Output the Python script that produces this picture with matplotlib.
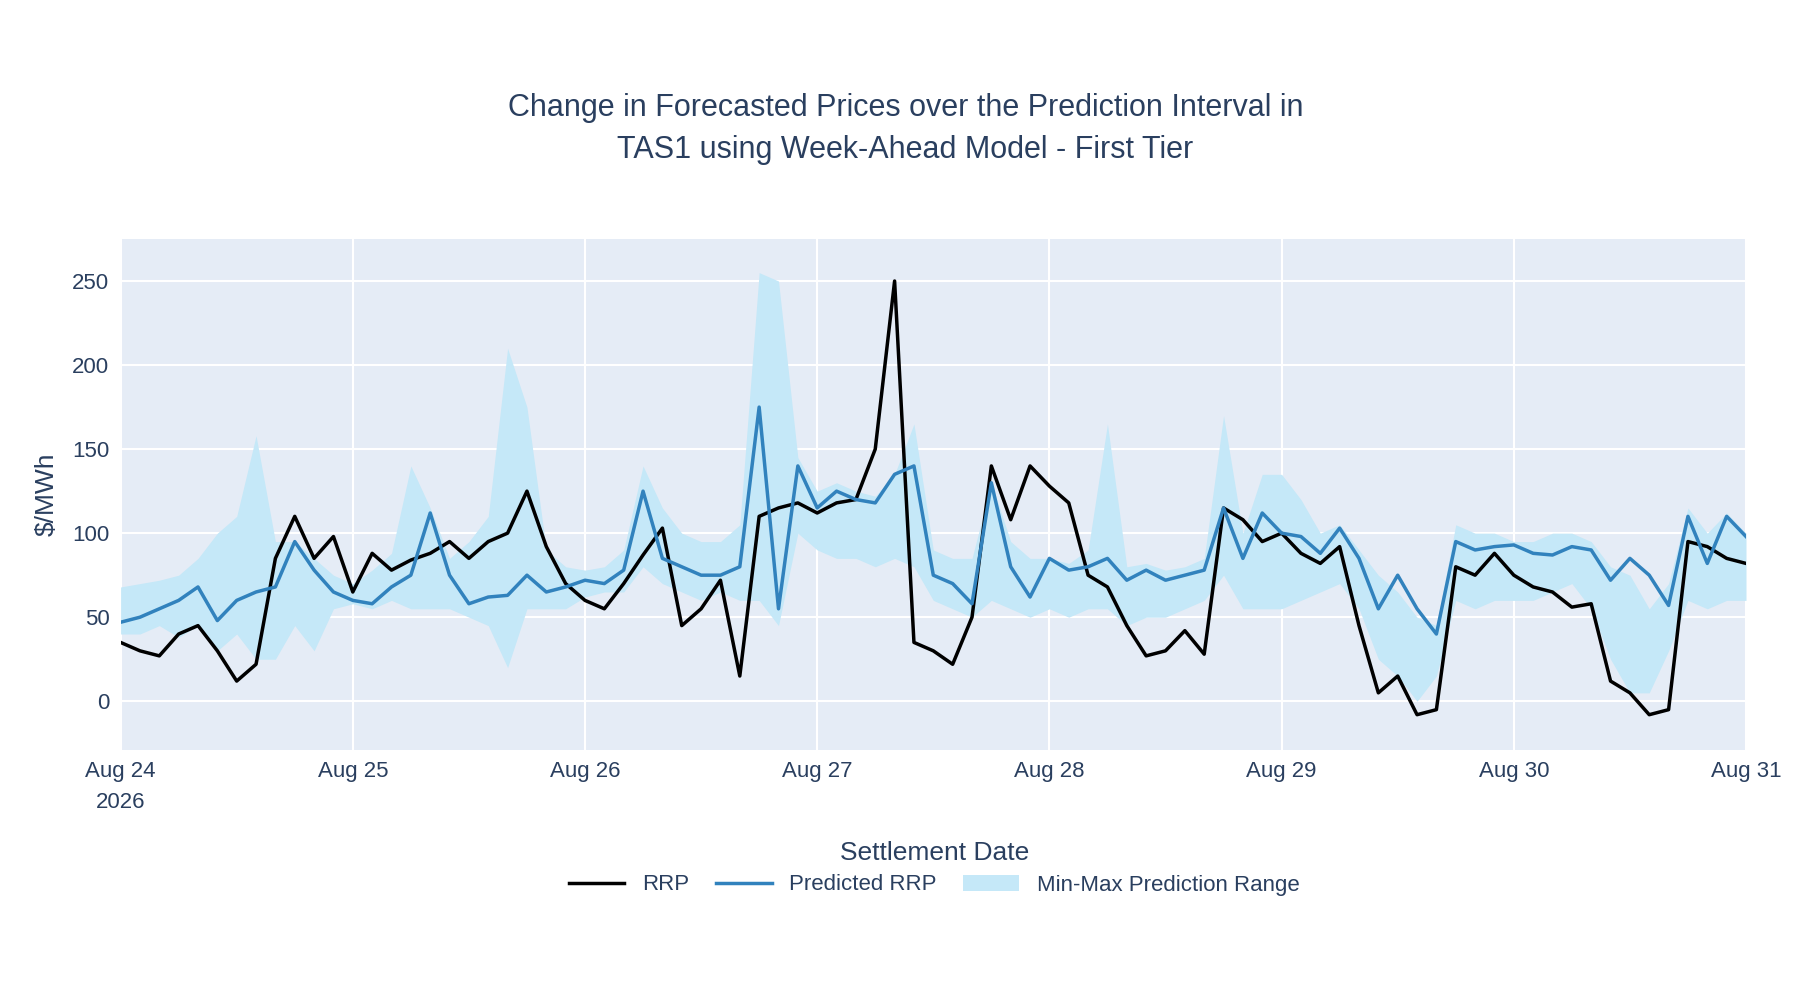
import numpy as np
import pandas as pd
import matplotlib
matplotlib.use("Agg")
import matplotlib.pyplot as plt
import matplotlib.dates as mdates

plt.rcParams['font.family'] = ['Liberation Sans', 'DejaVu Sans']

times = pd.date_range("2026-08-24 00:00", "2026-08-31 00:00", freq="2h")

rrp = [35,30,27,40,45,30,12,22,85,110,85,98,
       65,88,78,84,88,95,85,95,100,125,92,70,
       60,55,70,87,103,45,55,72,15,110,115,118,
       112,118,120,150,250,35,30,22,50,140,108,140,
       128,118,75,68,45,27,30,42,28,115,108,95,
       100,88,82,92,45,5,15,-8,-5,80,75,88,
       75,68,65,56,58,12,5,-8,-5,95,92,85,82]
pred = [47,50,55,60,68,48,60,65,68,95,78,65,
        60,58,68,75,112,75,58,62,63,75,65,68,
        72,70,78,125,85,80,75,75,80,175,55,140,
        115,125,120,118,135,140,75,70,58,130,80,62,
        85,78,80,85,72,78,72,75,78,115,85,112,
        100,98,88,103,85,55,75,55,40,95,90,92,
        93,88,87,92,90,72,85,75,57,110,82,110,98]
pmax = [68,70,72,75,85,100,110,158,95,95,85,75,
        70,78,88,140,115,85,95,110,210,175,90,80,
        78,80,90,140,115,100,95,95,105,255,250,145,
        125,130,125,122,135,165,90,85,85,130,95,85,
        85,82,90,165,80,82,78,80,85,170,100,135,
        135,120,100,105,90,75,65,50,45,105,100,100,
        95,95,100,100,95,80,75,55,70,115,100,112,100]
pmin = [40,40,45,38,45,30,40,25,25,45,30,55,
        58,55,60,55,55,55,50,45,20,55,55,55,
        62,65,65,80,70,65,60,65,60,60,45,100,
        90,85,85,80,85,80,60,55,50,60,55,50,
        55,50,55,55,45,50,50,55,60,75,55,55,
        55,60,65,70,55,25,15,0,15,60,55,60,
        60,60,65,70,55,25,5,5,30,60,55,60,60]

fig = plt.figure(figsize=(18, 10), dpi=100)
ax = fig.add_axes([0.067, 0.25, 0.903, 0.511])
ax.set_facecolor("#E5ECF6")
ax.fill_between(times, pmin, pmax, color="#C5E8F8", lw=0, label="Min-Max Prediction Range")
ax.plot(times, rrp, color="black", lw=2.5, label="RRP")
ax.plot(times, pred, color="#3182BD", lw=2.5, label="Predicted RRP")
ax.set_xlim(times[0], times[-1])
ax.set_ylim(-29, 275)
ax.set_yticks([0, 50, 100, 150, 200, 250])
ax.grid(True, color="white", lw=1.5)
ax.set_axisbelow(True)
for s in ax.spines.values():
    s.set_visible(False)
ax.tick_params(length=0, labelsize=16, colors="#2A3F5F", pad=8)
labels = [d.strftime("%b %d").replace(" 0", " ") for d in pd.date_range("2026-08-24", "2026-08-31")]
labels[0] = "Aug 24\n2026"
ax.set_xticks(pd.date_range("2026-08-24", "2026-08-31"))
ax.set_xticklabels(labels, linespacing=1.6)
for t in ax.get_xticklabels():
    t.set_verticalalignment("top")
ax.set_ylabel("$/MWh", fontsize=19, color="#2A3F5F", labelpad=10)
fig.text(0.519, 0.14, "Settlement Date", ha="center", fontsize=19, color="#2A3F5F")
fig.text(0.503, 0.871, "Change in Forecasted Prices over the Prediction Interval in\nTAS1 using Week-Ahead Model - First Tier",
         ha="center", va="center", fontsize=22, color="#2A3F5F", linespacing=1.55)
h, l = ax.get_legend_handles_labels()
order = [1, 2, 0]
fig.legend([h[i] for i in order], [l[i] for i in order], loc="center", bbox_to_anchor=(0.519, 0.115),
           ncol=3, frameon=False, fontsize=16, labelcolor="#2A3F5F", handlelength=2.5, columnspacing=1.2)
fig.savefig("out.png", dpi=100, facecolor="white")
